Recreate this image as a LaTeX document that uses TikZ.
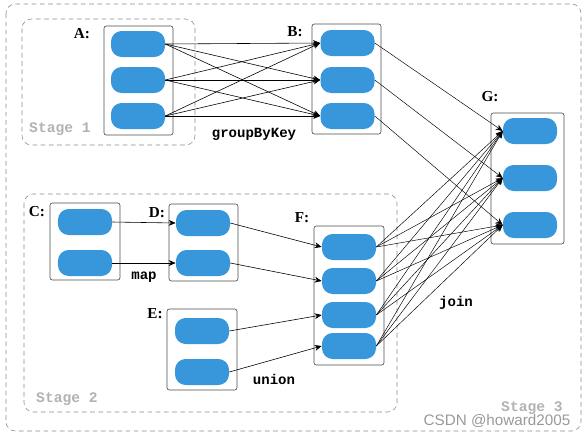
\documentclass[tikz,border=0pt]{standalone}
\usepackage{fontspec}
\setmainfont{Liberation Serif}
\setmonofont{Liberation Mono}
\setsansfont{Liberation Sans}
\usetikzlibrary{arrows.meta}

\definecolor{pillblue}{RGB}{56,151,218}
\definecolor{stagegray}{RGB}{140,140,140}

\tikzset{
  pill/.style={fill=pillblue, rounded corners=0.32cm, minimum width=1.62cm, minimum height=0.78cm, inner sep=0pt},
  rddbox/.style={draw=black!70, rounded corners=2pt, inner sep=0pt},
  stagebox/.style={draw=stagegray, dashed, dash pattern=on 4pt off 3pt, rounded corners=8pt},
  rddname/.style={font=\bfseries\fontsize{13}{13}\selectfont},
  opname/.style={font=\ttfamily\bfseries\fontsize{12}{12}\selectfont},
  stagename/.style={font=\ttfamily\bfseries\fontsize{12.5}{12.5}\selectfont, text=black!30}
}

\begin{document}
\begin{tikzpicture}[x=0.03cm, y=-0.03cm, >={Stealth[length=6pt,width=5pt]}, line width=0.5pt]
\useasboundingbox (0,0) rectangle (587,437);

% stages
\draw[stagebox] (6,4) rectangle (581,431);
\draw[stagebox] (22,19) rectangle (195,145);
\draw[stagebox] (24,194) rectangle (397,412);

% RDD boxes
\node[rddbox, minimum width=2.07cm, minimum height=3.27cm] (abox) at (138.5,80.5) {};
\node[rddbox, minimum width=2.07cm, minimum height=3.3cm] (bbox) at (346.5,79) {};
\node[rddbox, minimum width=2.19cm, minimum height=3.93cm] (gbox) at (527.5,178.5) {};
\node[rddbox, minimum width=2.1cm, minimum height=2.31cm] (cbox) at (85,241.5) {};
\node[rddbox, minimum width=2.07cm, minimum height=2.31cm] (dbox) at (203.5,242.5) {};
\node[rddbox, minimum width=2.1cm, minimum height=2.43cm] (ebox) at (202,349.5) {};
\node[rddbox, minimum width=2.1cm, minimum height=4.17cm] (fbox) at (349,295.5) {};

% partitions
\node[pill] (a1) at (138,44) {};
\node[pill] (a2) at (138,80) {};
\node[pill] (a3) at (138,116) {};

\node[pill] (b1) at (347.5,43) {};
\node[pill] (b2) at (347.5,80) {};
\node[pill] (b3) at (347.5,116) {};

\node[pill] (g1) at (530,131) {};
\node[pill] (g2) at (530,178) {};
\node[pill] (g3) at (530,225) {};

\node[pill] (c1) at (85,222) {};
\node[pill] (c2) at (85,263) {};

\node[pill] (d1) at (203,223) {};
\node[pill] (d2) at (203,263) {};

\node[pill] (e1) at (202,331) {};
\node[pill] (e2) at (202,372) {};

\node[pill] (f1) at (349,247) {};
\node[pill] (f2) at (349,281) {};
\node[pill] (f3) at (349,315) {};
\node[pill] (f4) at (349,346) {};

% RDD names
\node[rddname] (aname) at (82,34) {A:};
\node[rddname] (bname) at (295,32) {B:};
\node[rddname] (gname) at (490,97) {G:};
\node[rddname] (cname) at (37,212) {C:};
\node[rddname] (dname) at (157,213) {D:};
\node[rddname] (ename) at (155,314) {E:};
\node[rddname] (fname) at (302,218) {F:};

% groupByKey
\foreach \i in {1,2,3}
  \foreach \j in {1,2,3}
    \draw[->] (a\i.east) -- (b\j.west);

% B -> G
\draw[->, line width=0.4pt] (b1.east) -- (g1.west);
\draw[->, line width=0.4pt] (b2.east) -- (g2.west);
\draw[->, line width=0.4pt] (b3.east) -- (g3.west);

% map
\draw[->] (c1.east) -- (d1.west);
\draw[->] (c2.east) -- (d2.west);

% union
\draw[->] (d1.east) -- (f1.west);
\draw[->] (d2.east) -- (f2.west);
\draw[->] (e1.east) -- (f3.west);
\draw[->] (e2.east) -- (f4.west);

% join
\foreach \i in {1,2,3,4}
  \foreach \j in {1,2,3}
    \draw[->, line width=0.4pt] (f\i.east) -- (g\j.west);

% operations
\node[opname] (gbk) at (254,134) {groupByKey};
\node[opname] (mapop) at (144,277) {map};
\node[opname] (unionop) at (274,379) {union};
\node[opname] (joinop) at (456,303) {join};

% stage names
\node[stagename] (s1) at (60,129) {Stage 1};
\node[stagename] (s2) at (67,399) {Stage 2};
\node[stagename] (s3) at (532,408) {Stage 3};

\node[font=\sffamily\fontsize{13}{13}\selectfont, text=black!40] (mark) at (497,421) {CSDN @howard2005};
\end{tikzpicture}
\end{document}
